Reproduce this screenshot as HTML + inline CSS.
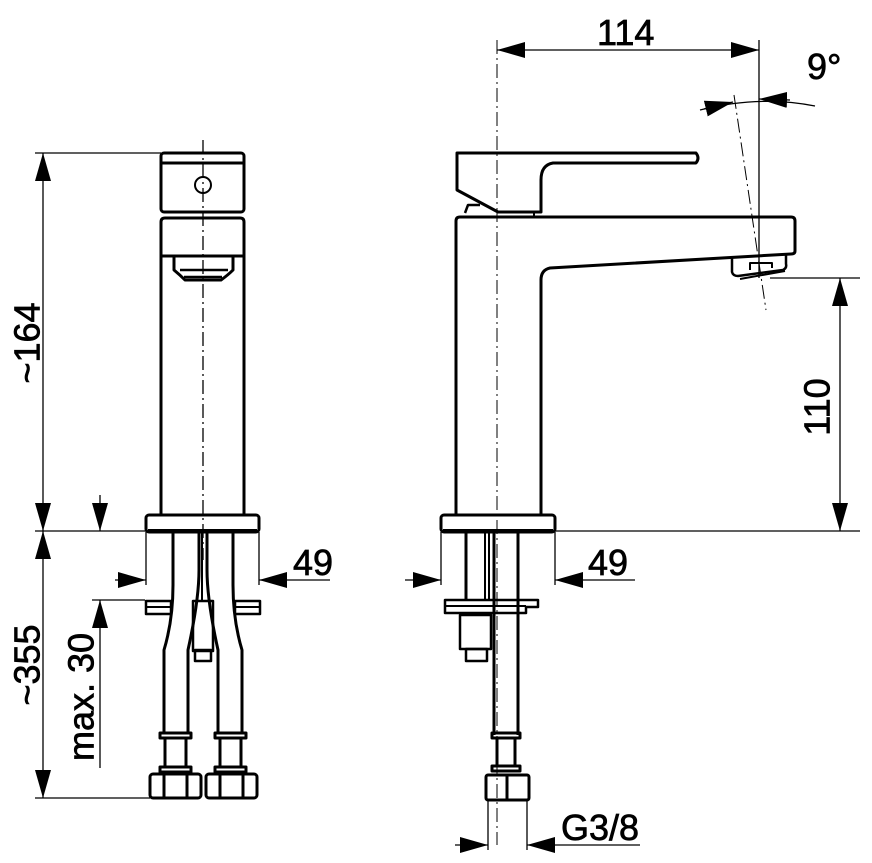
<!DOCTYPE html>
<html><head><meta charset="utf-8"><style>
html,body{margin:0;padding:0;background:#fff;}
svg{display:block}
text{font-family:"Liberation Sans",sans-serif;font-size:36px;fill:#000;stroke:#000;stroke-width:0.7}
</style></head><body>
<svg width="872" height="863" viewBox="0 0 872 863" xmlns="http://www.w3.org/2000/svg">
<defs>
<marker id="a" viewBox="0 0 28 16" refX="28" refY="8" markerWidth="28" markerHeight="16" markerUnits="userSpaceOnUse" orient="auto-start-reverse"><path d="M0,0 L28,8 L0,16 Z" fill="#000"/></marker>
</defs>
<g fill="none" stroke="#000" stroke-width="1.3">
<line x1="203" y1="140" x2="203" y2="560" stroke-dasharray="14,4,2,4"/>
<line x1="497" y1="40" x2="497" y2="845" stroke-dasharray="14,4,2,4" stroke-width="1"/>
<line x1="734" y1="95" x2="766" y2="310" stroke-dasharray="14,4,2,4" stroke-width="1"/>
<line x1="759" y1="40" x2="759" y2="278"/>
<line x1="35" y1="153" x2="161" y2="153"/>
<line x1="35" y1="531" x2="146" y2="531"/>
<line x1="43" y1="153" x2="43" y2="531" marker-start="url(#a)" marker-end="url(#a)"/>
<line x1="43" y1="531" x2="43" y2="798" marker-start="url(#a)" marker-end="url(#a)"/>
<line x1="35" y1="798" x2="150" y2="798"/>
<line x1="100" y1="495" x2="100" y2="531" marker-end="url(#a)"/>
<line x1="100" y1="768" x2="100" y2="600" marker-end="url(#a)"/>
<line x1="92" y1="600" x2="145" y2="600"/>
<line x1="146" y1="532" x2="146" y2="585"/><line x1="259" y1="532" x2="259" y2="585"/>
<line x1="115" y1="580" x2="146" y2="580" marker-end="url(#a)"/>
<line x1="330" y1="580" x2="259" y2="580" marker-end="url(#a)"/>
<line x1="441" y1="532" x2="441" y2="585"/><line x1="555" y1="532" x2="555" y2="585"/>
<line x1="405" y1="580" x2="441" y2="580" marker-end="url(#a)"/>
<line x1="635" y1="580" x2="555" y2="580" marker-end="url(#a)"/>
<line x1="497" y1="50" x2="759" y2="50" marker-start="url(#a)" marker-end="url(#a)"/>
<path d="M700,110 Q760,95 815,106"/>
<line x1="704" y1="109" x2="733" y2="102" marker-end="url(#a)"/>
<line x1="790" y1="100" x2="759" y2="99" marker-end="url(#a)"/>
<line x1="770" y1="278" x2="860" y2="278"/>
<line x1="555" y1="531" x2="860" y2="531"/>
<line x1="840" y1="278" x2="840" y2="531" marker-start="url(#a)" marker-end="url(#a)"/>
<line x1="488" y1="800" x2="488" y2="850"/><line x1="527" y1="800" x2="527" y2="850"/>
<line x1="455" y1="845" x2="488" y2="845" marker-end="url(#a)"/>
<line x1="640" y1="845" x2="527" y2="845" marker-end="url(#a)"/>
</g>
<g fill="none" stroke="#000" stroke-width="3" stroke-linejoin="round">
<rect x="161" y="153" width="83" height="59" rx="3"/>
<line x1="161" y1="163" x2="244" y2="163"/>
<circle cx="203" cy="185" r="8" stroke-width="2"/>
<path d="M161,515 V222 Q161,218 165,218 H240 Q244,218 244,222 V515"/>
<line x1="161" y1="256" x2="244" y2="256"/>
<path d="M174,257 V270 Q180,275 185,280 H221 Q228,275 233,270 V257"/>
<path d="M180,270 H228 M184,277 H222" stroke-width="2.5"/>
<rect x="146" y="515" width="113" height="17" rx="3"/>
<line x1="148" y1="531" x2="257" y2="531" stroke-width="4"/>
<path d="M173,533 V585 Q173,620 164,650 V733"/>
<path d="M199,533 V570 Q199,600 188,650 V733"/>
<path d="M233,533 V585 Q233,620 242,650 V733"/>
<path d="M207,533 V570 Q207,600 218,650 V733"/>
<line x1="202" y1="533" x2="202" y2="600" stroke-width="2"/>
<rect x="146" y="601" width="25" height="13" stroke-width="2.5"/>
<line x1="146" y1="607" x2="171" y2="607" stroke-width="2"/>
<rect x="235" y="601" width="25" height="13" stroke-width="2.5"/>
<line x1="235" y1="607" x2="260" y2="607" stroke-width="2"/>
<rect x="193" y="601" width="20" height="50" stroke-width="2.5"/>
<rect x="195" y="650" width="16" height="11" stroke-width="2.5"/>
<rect x="160" y="733" width="31" height="5"/><rect x="160" y="767" width="31" height="5"/>
<line x1="165" y1="738" x2="165" y2="767"/><line x1="186" y1="738" x2="186" y2="767"/>
<rect x="215" y="733" width="31" height="5"/><rect x="215" y="767" width="31" height="5"/>
<line x1="220" y1="738" x2="220" y2="767"/><line x1="241" y1="738" x2="241" y2="767"/>
<rect x="150" y="774" width="51" height="24" rx="3"/>
<line x1="164" y1="774" x2="164" y2="798"/><line x1="187" y1="774" x2="187" y2="798"/>
<rect x="206" y="774" width="51" height="24" rx="3"/>
<line x1="220" y1="774" x2="220" y2="798"/><line x1="243" y1="774" x2="243" y2="798"/>
<path d="M457,153 H696 Q700,158 696,163 H553 Q541,165 541,180 V212 H498 L457,190 Z"/>
<path d="M465,213 L468,205 H480" stroke-width="2.5"/>
<line x1="534" y1="212" x2="534" y2="216" stroke-width="2"/>
<path d="M456,515 V221 Q456,217 460,217 H791 Q795,217 795,221 V251 Q795,254 791,254 L550,268 Q541,270 541,280 V515"/>
<path d="M732,257 V272 Q733,276 738,276 L783,270 Q787,268 786,264 V255" stroke-width="2.5"/>
<path d="M740,279 L785,271 M750,270 V263 H772 V268" stroke-width="2"/>
<rect x="441" y="515" width="114" height="17" rx="3"/>
<line x1="443" y1="531" x2="553" y2="531" stroke-width="4"/>
<line x1="466" y1="533" x2="466" y2="600"/>
<line x1="485" y1="533" x2="485" y2="600" stroke-width="2"/>
<line x1="489" y1="533" x2="489" y2="600" stroke-width="2"/>
<line x1="494" y1="533" x2="494" y2="735"/>
<line x1="518" y1="533" x2="518" y2="735"/>
<path d="M445,600 H538 V607 H526 V613 H445 Z" stroke-width="2.5"/>
<line x1="445" y1="606" x2="526" y2="606" stroke-width="2"/>
<rect x="460" y="615" width="31" height="34" stroke-width="2.5"/>
<rect x="466" y="649" width="21" height="12" stroke-width="2.5"/>
<rect x="492" y="733" width="28" height="5"/><rect x="492" y="766" width="28" height="5"/>
<line x1="497" y1="738" x2="497" y2="766"/><line x1="515" y1="738" x2="515" y2="766"/>
<rect x="486" y="775" width="43" height="25" rx="2"/>
<line x1="507" y1="775" x2="507" y2="800"/>
</g>
<text transform="rotate(-90 30 343)" x="30" y="343" text-anchor="middle" dominant-baseline="middle">~164</text>
<text transform="rotate(-90 30 665)" x="30" y="665" text-anchor="middle" dominant-baseline="middle">~355</text>
<text transform="rotate(-90 84 697)" x="84" y="697" text-anchor="middle" dominant-baseline="middle">max. 30</text>
<text transform="rotate(-90 820 407)" x="820" y="407" text-anchor="middle" dominant-baseline="middle">110</text>
<text x="293" y="575">49</text>
<text x="588" y="575">49</text>
<text x="597" y="45">114</text>
<text x="807" y="79">9°</text>
<text x="561" y="840">G3/8</text>
</svg>
</body></html>
